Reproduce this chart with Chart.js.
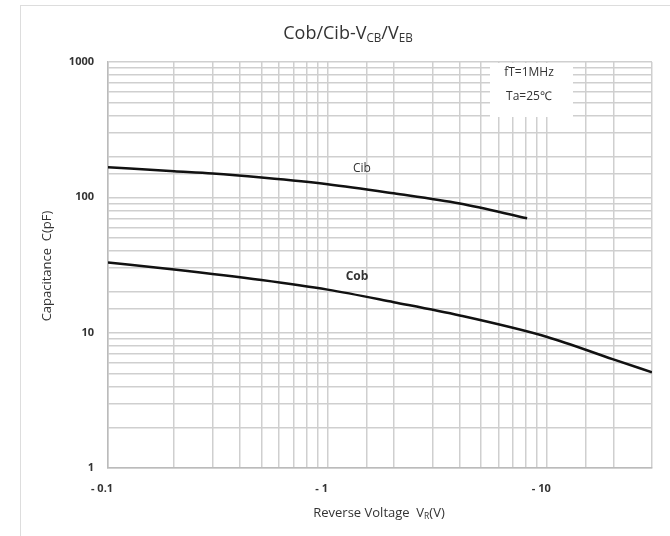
<!DOCTYPE html>
<html>
<head>
<meta charset="utf-8">
<script src="https://cdn.jsdelivr.net/npm/chart.js@4.4.0/dist/chart.umd.min.js"></script>
<style>
  html, body { margin: 0; padding: 0; background: #fff; }
  #wrap { position: relative; width: 670px; height: 536px; }
  #frame { position: absolute; left: 20px; top: 5px; right: 0; bottom: 0; border-left: 1px solid #ddd; border-top: 1px solid #ddd; }
  canvas { position: absolute; left: 0; top: 0; }
</style>
</head>
<body>
<div id="wrap">
  <div id="frame"></div>
  <canvas id="capChart" width="670" height="536"></canvas>
</div>
<script>
// Data (V in volts, C in pF)
const cibVoltage = [0.1, 0.2, 0.3, 0.5, 1, 2, 4, 8.1]
const cibValues = [167, 156, 150, 140, 125, 107, 90, 70]
const cobVoltage = [0.1, 0.2, 0.5, 1, 2, 4, 10, 20, 30]
const cobValues = [33, 29.3, 24.5, 20.8, 16.8, 13.4, 9.3, 6.35, 5.1]
const xTickLabels = { 0.1: '- 0.1', 1: '- 1', 10: '- 10' }
const yTickLabels = { 1: '1', 10: '10', 100: '100', 1000: '1000' }

const FONT = '"Open Sans", "Liberation Sans", sans-serif'
const gridColor = '#cfcfcf'

function toPoints(xs, ys) {
    return xs.map((x, i) => ({ x: x, y: ys[i] }))
}

// draw text with subscript parts: parts = [[text, isSub], ...]
function drawRich(ctx, parts, cx, cy, size) {
    let total = 0
    parts.forEach(p => {
        ctx.font = (p[1] ? size * 0.65 : size) + 'px ' + FONT
        total += ctx.measureText(p[0]).width
    })
    let x = cx - total / 2
    parts.forEach(p => {
        ctx.font = (p[1] ? size * 0.65 : size) + 'px ' + FONT
        ctx.fillText(p[0], x, p[1] ? cy + size * 0.28 : cy)
        x += ctx.measureText(p[0]).width
    })
}

const labelsPlugin = {
    id: 'labels',
    beforeDatasetsDraw(chart) {
        const ctx = chart.ctx
        const ys = chart.scales.y
        // white note box over the grid
        ctx.save()
        ctx.fillStyle = '#fff'
        ctx.fillRect(490, ys.top + 1, 83, 54)
        ctx.restore()
    },
    afterDraw(chart) {
        const ctx = chart.ctx
        ctx.save()
        ctx.fillStyle = '#333'
        ctx.textBaseline = 'middle'
        ctx.textAlign = 'left'
        drawRich(ctx, [['Cob/Cib-V', false], ['CB', true], ['/V', false], ['EB', true]], 348, 34, 18)
        drawRich(ctx, [['Reverse Voltage  V', false], ['R', true], ['(V)', false]], 379, 513, 13)
        ctx.textAlign = 'center'
        ctx.font = '12px ' + FONT
        ctx.fillText('fT=1MHz', 529, 73)
        ctx.fillText('Ta=25\u2103', 529, 97)
        ctx.fillText('Cib', 362, 169)
        ctx.font = 'bold 12px ' + FONT
        ctx.fillText('Cob', 357, 277)
        ctx.translate(47, 266)
        ctx.rotate(-Math.PI / 2)
        ctx.font = '13px ' + FONT
        ctx.fillText('Capacitance  C(pF)', 0, 0)
        ctx.restore()
    }
}

const chartConfig = {
    type: 'scatter',
    data: {
        datasets: [
            {
                label: 'Cib',
                data: toPoints(cibVoltage, cibValues),
                showLine: true,
                borderColor: '#111',
                borderWidth: 2.5,
                pointRadius: 0,
                cubicInterpolationMode: 'monotone',
            },
            {
                label: 'Cob',
                data: toPoints(cobVoltage, cobValues),
                showLine: true,
                borderColor: '#111',
                borderWidth: 2.5,
                pointRadius: 0,
                cubicInterpolationMode: 'monotone',
            }
        ]
    },
    options: {
        responsive: false,
        animation: false,
        layout: { padding: { left: 0, top: 62, right: 18, bottom: 0 } },
        plugins: {
            legend: { display: false },
            tooltip: { enabled: false },
        },
        scales: {
            x: {
                type: 'logarithmic',
                min: 0.1,
                max: 30,
                afterFit: scale => { scale.height = 68 },
                border: { color: '#bbb', width: 1.5 },
                grid: { color: gridColor, lineWidth: 1.5, drawTicks: false },
                ticks: {
                    autoSkip: false,
                    maxRotation: 0,
                    padding: 14,
                    labelOffset: -6,
                    color: '#333',
                    font: { family: FONT, size: 11, weight: 'bold' },
                    callback: v => xTickLabels[Number(v.toPrecision(3))] || ''
                }
            },
            y: {
                type: 'logarithmic',
                min: 1,
                max: 1000,
                afterFit: scale => { scale.width = 108 },
                border: { color: '#bbb', width: 1.5 },
                grid: { color: gridColor, lineWidth: 1.5, drawTicks: false },
                ticks: {
                    autoSkip: false,
                    padding: 14,
                    color: '#333',
                    font: { family: FONT, size: 11, weight: 'bold' },
                    callback: v => yTickLabels[Number(v.toPrecision(3))] || ''
                }
            }
        }
    },
    plugins: [labelsPlugin]
}

var ctx = document.getElementById('capChart').getContext('2d')
var capChart = new Chart(ctx, chartConfig)
</script>
</body>
</html>
